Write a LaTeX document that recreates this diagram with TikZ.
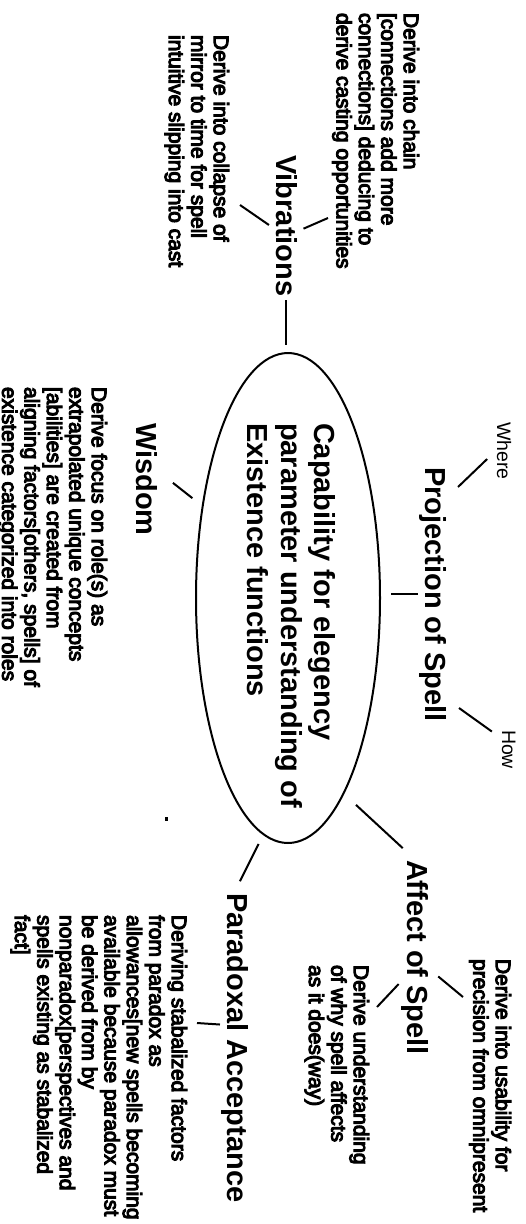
\documentclass[tikz,border=0pt]{standalone}
\usepackage{fontspec}
\setmainfont{Liberation Sans}
\newfontfamily\notefont[FakeBold=5]{Liberation Sans}
\usetikzlibrary{shapes.geometric}

\begin{document}
\begin{tikzpicture}[x=1pt, y=-1pt, line width=2pt,
    head/.style={rotate=-90, anchor=base west, inner sep=0pt, font=\fontsize{29}{34}\selectfont\bfseries},
    note/.style={rotate=-90, anchor=north west, inner sep=0pt, align=left, font=\notefont\fontsize{21}{22.4}\selectfont},
    tag/.style={rotate=-90, anchor=base west, inner sep=0pt, font=\fontsize{19.5}{22}\selectfont}]
    \useasboundingbox (0,0) rectangle (526,1224);

    % Nodes
    \node (core) [ellipse, draw, rotate=-90, minimum width=490pt, minimum height=184pt, inner sep=0pt] at (288,598) {};
    \node (coretext) [note, font=\fontsize{29}{33.5}\selectfont\bfseries] at (337,422) {Capability for elegency\\parameter understanding of\\Existence functions};
    \node (vib) [head] at (276,154) {Vibrations};
    \node (chain) [note] at (420,12) {Derive into chain\\{[}connections add more\\connections] deducing to\\derive casting opportunities};
    \node (collapse) [note] at (230,34) {Derive into collapse of\\mirror to time for spell\\intuitive slipping into cast};
    \node (proj) [head] at (425,466) {Projection of Spell};
    \node (where) [tag] at (497,421) {Where};
    \node (how) [tag] at (502,729) {How};
    \node (wisdom) [head] at (136,422) {Wisdom};
    \node (wisdomtext) [note] at (108,386) {Derive focus on role(s) as\\extrapolated unique concepts\\{[}abilities] are created from\\aligning factors[others, spells] of\\existence categorized into roles};
    \node (affect) [head] at (407,859) {Affect of Spell};
    \node (usability) [note] at (512,958) {Derive into usability for\\precision from omnipresent};
    \node (understanding) [note] at (370,964) {Derive understanding\\of why spell affects\\as it does(way)};
    \node (paradox) [head] at (227,892) {Paradoxal Acceptance};
    \node (paradoxtext) [note] at (188,914) {Deriving stabalized factors\\from paradox as\\allowances[new spells becoming\\available because paradox must\\be derived from by\\nonparadox[perspectives and\\spells existing as stabalized\\fact]};

    \coordinate (chain-end) at (328,218);
    \coordinate (collapse-end) at (240,205);
    \coordinate (where-end) at (458,487);
    \coordinate (how-end) at (459,708);
    \coordinate (usability-end) at (463,997);
    \coordinate (understanding-end) at (377,1007);
    \coordinate (paradox-end) at (197,1023);

    % Edges
    \draw[shorten <=3pt, shorten >=7pt] (vib.east) -- (vib.east |- core.west);
    \draw[shorten <=6pt] (vib.65) -- (chain-end);
    \draw[shorten <=7pt] (vib.-74) -- (collapse-end);
    \draw[shorten >=10pt] (proj.south) -- (proj.south -| core.north);
    \draw[shorten <=12pt] (where.south) -- (where-end);
    \draw[shorten <=11pt] (how.-146) -- (how-end);
    \draw[shorten <=19pt, shorten >=12pt] (wisdom.125) -- (core.-137);
    \draw[shorten <=16pt, shorten >=16pt] (core.16) -- (affect.west);
    \draw[shorten <=12pt] (affect.52) -- (usability-end);
    \draw[shorten <=2pt] (affect.-30) -- (understanding-end);
    \draw[shorten <=10pt, shorten >=12pt] (core.-6) -- (paradox.west);
    \draw (paradox.-148) -- (paradox-end);

    \fill (165,817) rectangle (168,821);
\end{tikzpicture}
\end{document}
